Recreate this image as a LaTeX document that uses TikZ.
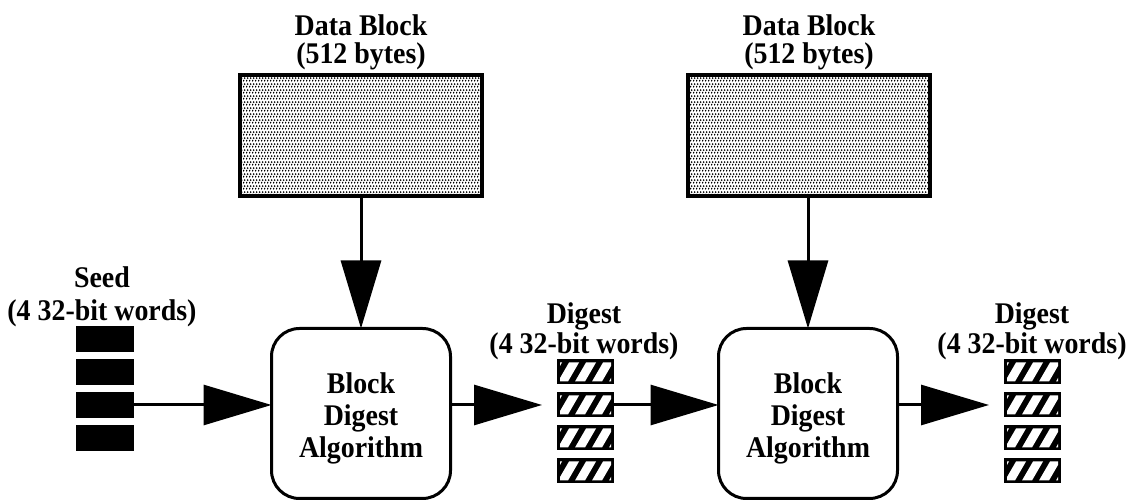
\documentclass[tikz,border=0pt]{standalone}
\usepackage{fontspec}
\newfontfamily\lblfont{Liberation Serif Bold}[FakeStretch=0.93]
\usetikzlibrary{arrows.meta,patterns}

% fine staggered dot stipple for the data blocks
\pgfdeclarepatternformonly{stipple}{\pgfqpoint{0pt}{0pt}}{\pgfqpoint{3pt}{6pt}}{\pgfqpoint{3pt}{6pt}}{%
  \pgfpathcircle{\pgfqpoint{0.75pt}{1.5pt}}{1.15pt}%
  \pgfpathcircle{\pgfqpoint{2.25pt}{4.5pt}}{1.15pt}%
  \pgfusepath{fill}}

\tikzset{
  lbl/.style={font=\lblfont\fontsize{30}{30}\selectfont, align=center, inner sep=0pt},
  datablock/.style={draw, line width=4pt, pattern=stipple, minimum width=242pt,
    minimum height=121pt, inner sep=0pt, outer sep=0pt},
  algbox/.style={draw, line width=3pt, rounded corners=28pt, minimum width=179pt,
    minimum height=170pt, inner sep=0pt, outer sep=0pt, align=center,
    font=\lblfont\fontsize{30}{32}\selectfont},
  seedword/.style={fill=black, minimum width=58pt, minimum height=26pt,
    inner sep=0pt, outer sep=0pt},
  digestword/.style={fill=black, minimum width=57pt, minimum height=25pt,
    inner sep=0pt, outer sep=0pt,
    path picture={
      \begin{scope}[shift={(path picture bounding box.center)}]
        \clip (-25.5,-9.5) rectangle (25.5,9.5);
        \foreach \k in {-2,...,2}
          \fill[white] ({\k*17-10.5},-9.5) -- ({\k*17-0.5},-9.5)
                       -- ({\k*17+10.5},9.5) -- ({\k*17+0.5},9.5) -- cycle;
      \end{scope}
    }},
  flow/.style={line width=3pt, -{Triangle[length=68pt,width=40pt]}},
}

\begin{document}
\begin{tikzpicture}[x=1pt,y=1pt]
  \fill[white] (0,0) rectangle (1128,502);
  \useasboundingbox (0,0) rectangle (1128,502);

  % input data blocks
  \node[datablock] (db1) at (361,366.5) {};
  \node[datablock] (db2) at (809,366.5) {};
  \node[lbl] (db1lbl) at (361,460) {Data Block\\[-2pt](512 bytes)};
  \node[lbl] (db2lbl) at (809,460) {Data Block\\[-2pt](512 bytes)};

  % digest algorithm stages
  \node[algbox] (alg1) at (361,88.5) {\rule{0pt}{30pt}Block\\Digest\\Algorithm};
  \node[algbox] (alg2) at (808,88.5) {\rule{0pt}{30pt}Block\\Digest\\Algorithm};

  % seed words
  \node[seedword] (s1) at (105,163) {};
  \node[seedword] (s2) at (105,130) {};
  \node[seedword] (s3) at (105,97) {};
  \node[seedword] (s4) at (105,64) {};
  \node[lbl] (seedlbl) at (102,205) {Seed\\[3pt](4 32-bit words)};

  % first intermediate digest
  \node[digestword] (d1a) at (585.5,130) {};
  \node[digestword] (d1b) at (585.5,97) {};
  \node[digestword] (d1c) at (585.5,64) {};
  \node[digestword] (d1d) at (585.5,31) {};
  \node[lbl] (d1lbl) at (584,171) {Digest\\(4 32-bit words)};

  % final digest
  \node[digestword] (d2a) at (1032.5,130) {};
  \node[digestword] (d2b) at (1032.5,97) {};
  \node[digestword] (d2c) at (1032.5,64) {};
  \node[digestword] (d2d) at (1032.5,31) {};
  \node[lbl] (d2lbl) at (1032,171) {Digest\\(4 32-bit words)};

  % connectors
  \draw[flow] (db1.south) -- (alg1.north);
  \draw[flow] (db2.south -| alg2.north) -- (alg2.north);
  \draw[flow] (s3.east) -- (s3.east -| alg1.west);
  \draw[flow, shorten >=15pt] (d1b.west -| alg1.east) -- (d1b.west);
  \draw[flow] (d1b.east) -- (d1b.east -| alg2.west);
  \draw[flow, shorten >=15pt] (d2b.west -| alg2.east) -- (d2b.west);
\end{tikzpicture}
\end{document}
